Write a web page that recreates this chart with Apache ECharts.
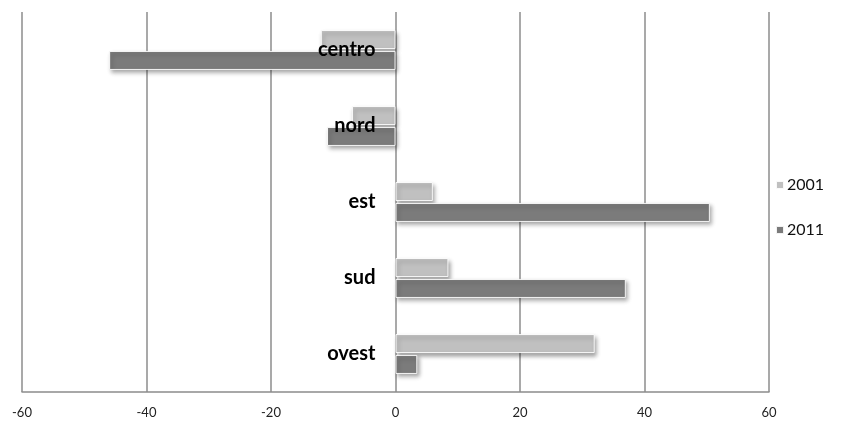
<!DOCTYPE html>
<html>
<head>
<meta charset="utf-8">
<script src="https://cdn.jsdelivr.net/npm/echarts@6/dist/echarts.min.js"></script>
<style>
html,body{margin:0;padding:0;background:#fff;}
#chart{width:851px;height:423px;}
</style>
</head>
<body>
<div id="chart"></div>
<script>
// Regions, listed from bottom to top of the category axis
const categories = ['ovest', 'sud', 'est', 'nord', 'centro'];
const values2001 = [32, 8.5, 6, -7, -12];
const values2011 = [3.5, 37, 50.5, -11, -46];
const xTicks = [-60, -40, -20, 0, 20, 40, 60];

const gridLeft = 22, gridRight = 82, chartWidth = 851;
// category axis sits on the zero line of the value axis
const zeroOffset = (chartWidth - gridLeft - gridRight) *
  (0 - xTicks[0]) / (xTicks[xTicks.length - 1] - xTicks[0]);

const barShadow = {
  shadowColor: 'rgba(0,0,0,0.35)',
  shadowBlur: 4,
  shadowOffsetX: 2,
  shadowOffsetY: 3,
  borderColor: 'rgba(255,255,255,0.9)',
  borderWidth: 1
};

const chart = echarts.init(document.getElementById('chart'));
chart.setOption({
  animation: false,
  backgroundColor: '#ffffff',
  textStyle: { fontFamily: 'Lato, "Open Sans", sans-serif' },
  grid: { left: gridLeft, right: gridRight, top: 12, bottom: 31, containLabel: false, outerBoundsMode: 'none' },
  legend: {
    orient: 'vertical',
    left: 775,
    top: 177,
    padding: 0,
    itemWidth: 8,
    itemHeight: 8,
    itemGap: 29,
    icon: 'rect',
    textStyle: { fontSize: 16, color: '#111', fontFamily: 'Lato, sans-serif', padding: [0, 0, 0, -2] },
    data: ['2001', '2011']
  },
  xAxis: {
    type: 'value',
    min: xTicks[0],
    max: xTicks[xTicks.length - 1],
    interval: 20,
    axisLine: { show: true, lineStyle: { color: '#8c8c8c', width: 1.5 } },
    axisTick: { show: false },
    splitLine: { show: true, lineStyle: { color: '#8c8c8c', width: 1.5 } },
    axisLabel: { fontSize: 13, color: '#222', margin: 14 }
  },
  yAxis: {
    type: 'category',
    data: categories,
    position: 'left',
    offset: -zeroOffset,
    z: 10,
    axisLine: { show: false },
    axisTick: { show: false },
    axisLabel: {
      fontSize: 20, fontWeight: 'bold', color: '#000', margin: 20,
      verticalAlign: 'middle', lineHeight: 20, padding: [7, 0, 0, 0]
    }
  },
  series: [
    {
      name: '2001',
      type: 'bar',
      data: values2001,
      barWidth: 19,
      barGap: '10%',
      itemStyle: Object.assign({ color: '#c0c0c0' }, barShadow)
    },
    {
      name: '2011',
      type: 'bar',
      data: values2011,
      barWidth: 19,
      itemStyle: Object.assign({ color: '#7b7b7b' }, barShadow)
    }
  ]
});
</script>
</body>
</html>
